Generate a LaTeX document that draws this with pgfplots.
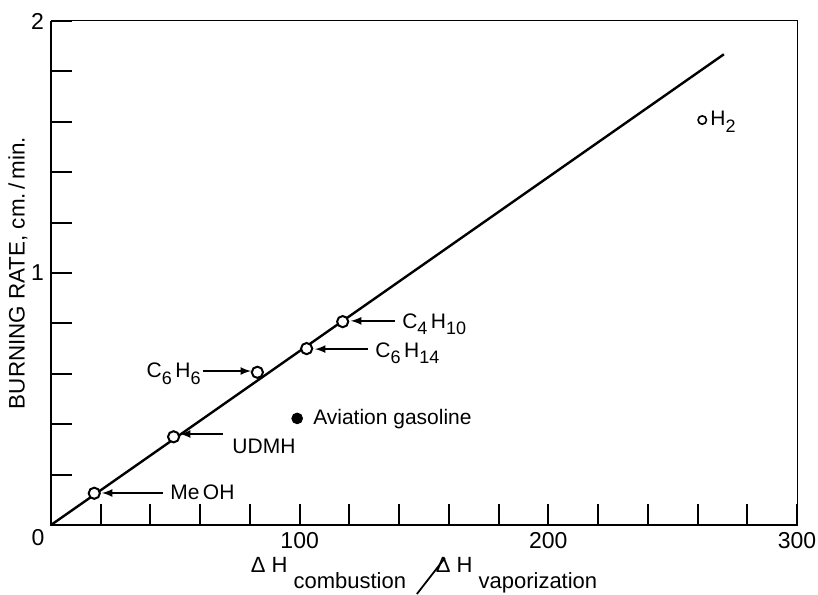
\documentclass[border=0pt]{standalone}
\usepackage{fontspec}
\setmainfont{Liberation Sans}
\usepackage{pgfplots}
\pgfplotsset{compat=1.18}
\newcommand\sub[1]{\raisebox{-0.55ex}{\fontsize{9}{10}\selectfont #1}}
\begin{document}
\begin{tikzpicture}
\begin{axis}[
 scale only axis, width=373pt, height=252pt,
 xmin=0, xmax=300, ymin=0, ymax=2,
 xtick={100,200,300}, ytick={1,2},
 minor xtick={20,40,60,80,120,140,160,180,220,240,260,280},
 minor ytick={0.2,0.4,0.6,0.8,1.2,1.4,1.6,1.8},
 tick pos=left, tick align=inside,
 major tick length=10.5pt, minor tick length=10.5pt,
 every tick/.style={black, line width=1pt},
 /pgf/number format/assume math mode=true,
 ticklabel style={font=\fontsize{11.5}{13}\selectfont},
 axis line style={line width=0.5pt},
 clip=false,
]
\addplot[black, line width=1.2pt] coordinates {(0,0) (270.6,1.868)};
\addplot[only marks, mark=*, mark size=2.8pt, mark options={line width=1pt, fill=white, draw=black}]
  coordinates {(17.4,0.126) (49.3,0.35) (83,0.606) (102.8,0.70) (117.3,0.807)};
\addplot[only marks, mark=*, mark size=2.1pt, mark options={line width=0.8pt, fill=white, draw=black}]
  coordinates {(261.9,1.607)};
\addplot[only marks, mark=*, mark size=2.7pt, mark options={fill=black, draw=black}]
  coordinates {(99,0.423)};
\draw[line width=1.1pt] (rel axis cs:0,1) -- (rel axis cs:0,0) -- (rel axis cs:1,0);
\coordinate (sw) at (rel axis cs:0,0);
\coordinate (ne) at (rel axis cs:1,1);
\coordinate (ym) at (rel axis cs:0,0.5);
\coordinate (xm) at (rel axis cs:0.5,0);
% annotations
\begin{scope}[font=\fontsize{10.5}{12}\selectfont, >=latex]
\draw[->, line width=0.8pt] (axis cs:45.0,0.127) -- (axis cs:20.5,0.127);
\node[anchor=west, inner sep=0pt] at (axis cs:47.8,0.131) {Me\,OH};
\draw[->, line width=0.8pt] (axis cs:69.2,0.361) -- (axis cs:51.9,0.361);
\node[anchor=west, inner sep=0pt] at (axis cs:72.8,0.313) {UDMH};
\draw[->, line width=0.8pt] (axis cs:61.1,0.611) -- (axis cs:80.4,0.611);
\node[anchor=east, inner sep=0pt] at (axis cs:60.3,0.60) {C\sub{6}\,H\sub{6}};
\draw[->, line width=0.8pt] (axis cs:127.5,0.698) -- (axis cs:106.2,0.698);
\node[anchor=west, inner sep=0pt] at (axis cs:130.3,0.683) {C\sub{6}\,H\sub{14}};
\draw[->, line width=0.8pt] (axis cs:138.3,0.81) -- (axis cs:120.6,0.81);
\node[anchor=west, inner sep=0pt] at (axis cs:141.1,0.798) {C\sub{4}\,H\sub{10}};
\node[anchor=west, inner sep=0pt] at (axis cs:105.3,0.42) {Aviation gasoline};
\node[anchor=west, inner sep=0pt] at (axis cs:265,1.60) {H\sub{2}};
\end{scope}
\end{axis}
\node[font=\fontsize{11.5}{13}\selectfont] at ([shift={(-6.5pt,-6.5pt)}]sw) {0};
\node[rotate=90, font=\fontsize{11.2}{13}\selectfont] at ([xshift=-16.5pt]ym) {BURNING RATE, cm.\,/\,min.};
\node[anchor=base, font=\fontsize{11}{13}\selectfont, inner sep=0pt] at ([yshift=-23.5pt]xm)
  {Δ H\raisebox{-8pt}{\ combustion}\hspace{0.45em}\tikz[baseline=0pt]\draw[line width=0.9pt] (0,-11pt) -- (14pt,7pt);\hspace{-5pt}Δ H\raisebox{-8pt}{\ vaporization}};
\pgfresetboundingbox
\path ([shift={(-25.5pt,-34.5pt)}]sw) rectangle ([shift={(10.5pt,10.5pt)}]ne);
\end{tikzpicture}
\end{document}
